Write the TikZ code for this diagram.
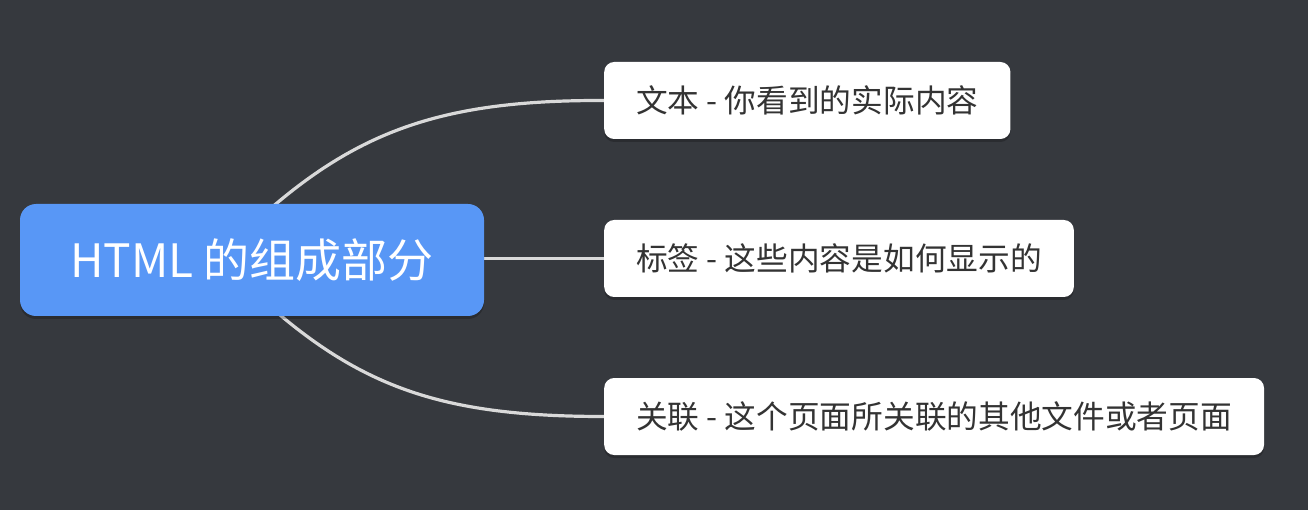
\documentclass[tikz,border=0pt]{standalone}
\usepackage{fontspec}
\setmainfont{Noto Sans CJK SC}
\usetikzlibrary{shadows,calc}
\definecolor{bgc}{HTML}{36393E}
\definecolor{rootc}{HTML}{5897F6}
\definecolor{linec}{HTML}{D9D9D9}
\definecolor{txtc}{HTML}{333333}
\pgfdeclarelayer{bglayer}
\pgfdeclarelayer{linelayer}
\pgfsetlayers{bglayer,linelayer,main}
\begin{document}
\begin{tikzpicture}[x=1pt,y=-1pt,
  softshadow/.style={drop shadow={shadow xshift=0pt,shadow yshift=-3pt,fill=black,opacity=0.22}},
  rootbox/.style={fill=rootc, rounded corners=16pt, minimum width=464pt, minimum height=112pt,
    text=white, font=\fontsize{46}{46}\selectfont, inner sep=0pt, softshadow},
  leafbox/.style={fill=white, rounded corners=10pt, minimum height=77pt, inner xsep=32pt, inner ysep=0pt,
    text=txtc, font=\fontsize{31.7}{31.7}\selectfont, anchor=west, softshadow},
  conn/.style={draw=linec, line width=3.2pt}]
\useasboundingbox (0,0) rectangle (1308,510);
\begin{pgfonlayer}{bglayer}
  \fill[bgc] (0,0) rectangle (1308,510);
\end{pgfonlayer}
\node[rootbox] (root) at (252,260) {HTML 的组成部分};
\node[leafbox] (t1) at (604,100.5) {文本 - 你看到的实际内容};
\node[leafbox] (t2) at (604,258.5) {标签 - 这些内容是如何显示的};
\node[leafbox] (t3) at (604,416.5) {关联 - 这个页面所关联的其他文件或者页面};
\coordinate (u1) at (277,203);
\coordinate (d1) at (280,315);
\begin{pgfonlayer}{linelayer}
  \draw[conn] (root.center) -- (266,212) -- (u1) .. controls (369,126) and (454,100) .. (t1.west);
  \draw[conn] (root.center |- t2.west) -- (t2.west);
  \draw[conn] (root.center) -- (268,304) -- (d1) .. controls (372,392) and (454,416.5) .. (t3.west);
\end{pgfonlayer}
\end{tikzpicture}
\end{document}
